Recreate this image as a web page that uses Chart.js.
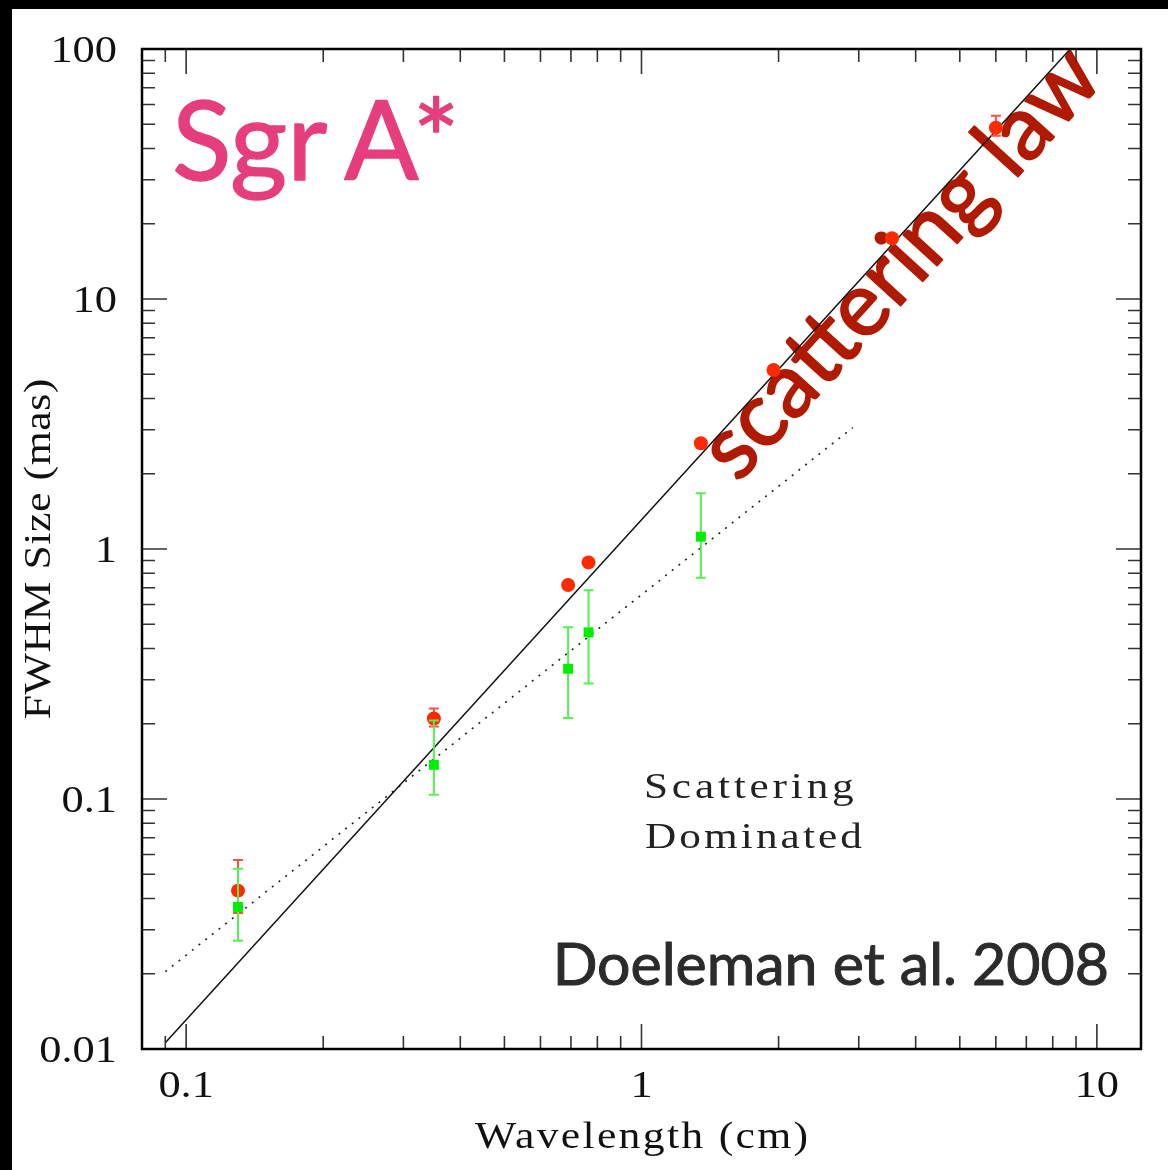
<!DOCTYPE html>
<html>
<head>
<meta charset="utf-8">
<script src="https://cdn.jsdelivr.net/npm/chart.js@4/dist/chart.umd.min.js"></script>
<style>
    html, body { margin: 0; padding: 0; background: #fff; }
    canvas { display: block; }
</style>
</head>
<body>
<canvas id="sizeChart" width="1168" height="1170"></canvas>
<script>
// Wavelength (cm) vs FWHM size (mas)
const lamObs = [0.13, 0.35, 0.69, 0.765, 1.35, 1.95, 3.55, 6.0];
const sizeObs = [0.043, 0.21, 0.718, 0.884, 2.65, 5.2, 17.5, 48.4];
const sizeObsHi = [0.057, 0.23, null, null, null, null, null, 54.1];
const sizeObsLo = [0.035, 0.195, null, null, null, null, null, 45.0];

const lamInt = [0.13, 0.35, 0.69, 0.765, 1.35];
const sizeInt = [0.037, 0.137, 0.332, 0.464, 1.12];
const sizeIntHi = [0.0526, 0.206, 0.486, 0.684, 1.67];
const sizeIntLo = [0.0271, 0.104, 0.211, 0.290, 0.768];

// scattering law and intrinsic size fit
const lawLam = [0.09, 8.74];
const lawSize = [0.0106, 100];
const fitLam = [0.09, 2.91];
const fitSize = [0.0204, 3.06];

const xTicks = [0.1, 1, 10];
const xTickLabels = ['0.1', '1', '10'];
const yTicks = [0.01, 0.1, 1, 10, 100];
const yTickLabels = ['0.01', '0.1', '1', '10', '100'];

const toPoints = (xs, ys) => xs.map((x, i) => ({x, y: ys[i]}));

const serif = '"Liberation Serif"';

// plot-style text: widened glyphs plus extra letter spacing
function spacedText(ctx, text, x, y, size, spacing, align, sx) {
    ctx.save();
    ctx.font = size + 'px ' + serif;
    ctx.letterSpacing = spacing + 'px';
    ctx.textAlign = align;
    ctx.textBaseline = 'alphabetic';
    let dx = 0;
    if (align === 'right') dx = spacing;
    if (align === 'center') dx = spacing / 2;
    ctx.translate(x, y);
    ctx.scale(sx, 1);
    ctx.fillText(text, dx, 0);
    ctx.restore();
}

// filled text with a thin outline in the same colour, for a heavier look
function boldText(ctx, text, x, y, font, color, weight) {
    ctx.font = font;
    ctx.fillStyle = color;
    ctx.strokeStyle = color;
    ctx.lineWidth = weight;
    ctx.lineJoin = 'round';
    ctx.fillText(text, x, y);
    ctx.strokeText(text, x, y);
}

const framePlugin = {
    id: 'frame',
    beforeDraw(chart) {
        const ctx = chart.ctx;
        ctx.save();
        ctx.fillStyle = '#fff';
        ctx.fillRect(0, 0, chart.width, chart.height);
        ctx.fillStyle = '#000';
        ctx.fillRect(0, 0, chart.width, 9);
        ctx.fillRect(0, 0, 12, chart.height);
        ctx.restore();
    },
    beforeDatasetsDraw(chart) {
        const ctx = chart.ctx;
        ctx.save();
        ctx.textBaseline = 'alphabetic';
        ctx.textAlign = 'left';
        ctx.wordSpacing = '-11px';
        boldText(ctx, 'Sgr A*', 172, 180, '110px Lato', '#e63e7c', 1.4);
        ctx.wordSpacing = '0px';

        ctx.textAlign = 'right';
        boldText(ctx, 'Doeleman et al. 2008', 1109, 985, '59px Lato', '#2b2b2b', 1);

        ctx.fillStyle = '#222';
        spacedText(ctx, 'Scattering', 644, 798, 36, 3.2, 'left', 1.2);
        spacedText(ctx, 'Dominated', 645, 848, 36, 2.6, 'left', 1.2);

        // label along the scattering law line
        const x = chart.scales.x, y = chart.scales.y;
        const ang = Math.atan2(
            y.getPixelForValue(lawSize[1]) - y.getPixelForValue(lawSize[0]),
            x.getPixelForValue(lawLam[1]) - x.getPixelForValue(lawLam[0]));
        ctx.translate(738, 484);
        ctx.rotate(ang);
        ctx.textAlign = 'left';
        boldText(ctx, 'scattering law', 0, 0, '90px Lato', '#b01a00', 1.8);
        ctx.restore();
    },
    beforeDatasetDraw(chart, args) {
        const ds = chart.data.datasets[args.index];
        if (!ds.errHi) return;
        const ctx = chart.ctx;
        const y = chart.scales.y;
        ctx.save();
        ctx.strokeStyle = ds.errColor;
        ctx.lineWidth = 2;
        args.meta.data.forEach((pt, i) => {
            if (ds.errHi[i] == null) return;
            const top = y.getPixelForValue(ds.errHi[i]);
            const bot = y.getPixelForValue(ds.errLo[i]);
            ctx.beginPath();
            ctx.moveTo(pt.x, top);
            ctx.lineTo(pt.x, bot);
            ctx.moveTo(pt.x - 5, top);
            ctx.lineTo(pt.x + 5, top);
            ctx.moveTo(pt.x - 5, bot);
            ctx.lineTo(pt.x + 5, bot);
            ctx.stroke();
        });
        ctx.restore();
    },
    afterDraw(chart) {
        const ctx = chart.ctx;
        const a = chart.chartArea;
        const x = chart.scales.x, y = chart.scales.y;
        ctx.save();

        // inward ticks on all four sides
        ctx.strokeStyle = '#333';
        ctx.lineWidth = 1.6;
        ctx.beginPath();
        for (let k = -2; k <= 2; k++) {
            for (let m = 1; m <= 9; m++) {
                const v = m * Math.pow(10, k);
                const len = m === 1 ? 25 : 13;
                if (v >= x.min && v <= x.max) {
                    const px = x.getPixelForValue(v);
                    ctx.moveTo(px, a.bottom);
                    ctx.lineTo(px, a.bottom - len);
                    ctx.moveTo(px, a.top);
                    ctx.lineTo(px, a.top + len);
                }
                if (v >= y.min && v <= y.max) {
                    const py = y.getPixelForValue(v);
                    ctx.moveTo(a.left, py);
                    ctx.lineTo(a.left + len, py);
                    ctx.moveTo(a.right, py);
                    ctx.lineTo(a.right - len, py);
                }
            }
        }
        ctx.stroke();

        ctx.strokeStyle = '#000';
        ctx.lineWidth = 2.5;
        ctx.strokeRect(a.left, a.top, a.right - a.left, a.bottom - a.top);

        // tick labels
        ctx.fillStyle = '#111';
        xTicks.forEach((v, i) => {
            spacedText(ctx, xTickLabels[i], x.getPixelForValue(v), a.bottom + 48, 37, 0, 'center', 1.2);
        });
        yTicks.forEach((v, i) => {
            spacedText(ctx, yTickLabels[i], a.left - 25, y.getPixelForValue(v) + 12.5, 37, 0, 'right', 1.2);
        });

        // axis titles
        spacedText(ctx, 'Wavelength (cm)', (a.left + a.right) / 2, 1148, 38, 2, 'center', 1.15);
        ctx.translate(50, (a.top + a.bottom) / 2);
        ctx.rotate(-Math.PI / 2);
        spacedText(ctx, 'FWHM Size (mas)', 0, 0, 38, 0.5, 'center', 1.15);
        ctx.restore();
    }
};

const config = {
    type: 'scatter',
    data: {
        datasets: [
            {
                label: 'scattering law',
                data: toPoints(lawLam, lawSize),
                showLine: true,
                pointRadius: 0,
                borderColor: '#111',
                borderWidth: 1.5,
                order: 3
            },
            {
                label: 'intrinsic fit',
                data: toPoints(fitLam, fitSize),
                showLine: true,
                pointRadius: 0,
                borderColor: '#222',
                borderWidth: 1.6,
                borderDash: [2, 6.5],
                order: 3
            },
            {
                label: 'observed',
                data: toPoints(lamObs, sizeObs),
                pointStyle: 'circle',
                pointRadius: 7,
                borderWidth: 0,
                backgroundColor: '#ff2a00',
                errHi: sizeObsHi,
                errLo: sizeObsLo,
                errColor: '#ff5040',
                order: 2
            },
            {
                label: 'intrinsic',
                data: toPoints(lamInt, sizeInt),
                pointStyle: 'rect',
                pointRadius: 7,
                borderWidth: 0,
                backgroundColor: '#00ee00',
                errHi: sizeIntHi,
                errLo: sizeIntLo,
                errColor: '#55ee55',
                order: 1
            }
        ]
    },
    options: {
        responsive: false,
        animation: false,
        devicePixelRatio: 1,
        layout: {
            padding: {left: 142, top: 49, right: 27, bottom: 121}
        },
        scales: {
            x: {type: 'logarithmic', min: 0.08, max: 12.5, display: false},
            y: {type: 'logarithmic', min: 0.01, max: 100, display: false}
        },
        plugins: {
            legend: {display: false},
            tooltip: {enabled: false}
        }
    },
    plugins: [framePlugin]
};

new Chart(document.getElementById('sizeChart'), config);
</script>
</body>
</html>
